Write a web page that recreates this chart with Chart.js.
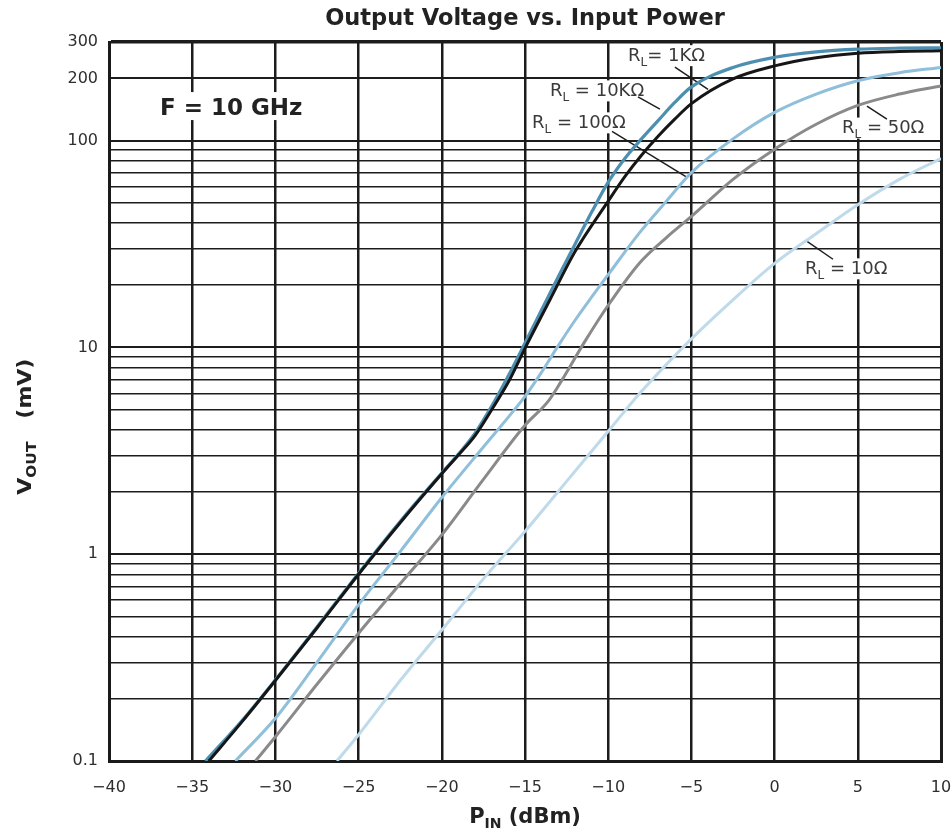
<!DOCTYPE html>
<html>
<head>
<meta charset="utf-8">
<script src="https://cdn.jsdelivr.net/npm/chart.js@4.4.1/dist/chart.umd.min.js"></script>
<style>
  html, body { margin: 0; padding: 0; background: #ffffff; }
  canvas { display: block; }
</style>
</head>
<body>
<canvas id="c" width="951" height="835"></canvas>
<script>
// ---------- text ----------
const chartTitle = 'Output Voltage vs. Input Power';
const conditionLabel = 'F = 10 GHz';

// ---------- ticks ----------
const xTickValues = [-40, -35, -30, -25, -20, -15, -10, -5, 0, 5, 10];
const xTickLabels = ['\u221240', '\u221235', '\u221230', '\u221225', '\u221220', '\u221215', '\u221210', '\u22125', '0', '5', '10'];
const yTickValues = [0.1, 0.2, 0.3, 0.4, 0.5, 0.6, 0.7, 0.8, 0.9,
                     1, 2, 3, 4, 5, 6, 7, 8, 9,
                     10, 20, 30, 40, 50, 60, 70, 80, 90,
                     100, 200, 300];
const yTickLabels = ['0.1', '', '', '', '', '', '', '', '',
                     '1', '', '', '', '', '', '', '', '',
                     '10', '', '', '', '', '', '', '', '',
                     '100', '200', '300'];

// ---------- series (P_IN in dBm, V_OUT in mV) ----------
const pin1k   = [-34.0, -32, -30, -27.5, -25, -22.5, -20, -19, -18, -17, -16, -15, -13.5, -12, -10, -9, -8, -7, -6, -5, -2.5, 0, 2.5, 5, 7.5, 10];
const vout1k  = [0.1, 0.155, 0.245, 0.44, 0.80, 1.42, 2.45, 3.02, 3.75, 5.0, 6.8, 9.9, 17, 29, 51, 67, 85, 105, 127, 151, 199, 230, 252, 265, 270, 272];

const pin10k  = [-34.2, -32, -30, -27.5, -25, -22.5, -20, -19, -18, -17, -16, -15, -14, -13, -12, -11, -10, -9, -8, -7, -6, -5, -2.5, 0, 2.5, 5, 7.5, 10];
const vout10k = [0.1, 0.157, 0.247, 0.445, 0.81, 1.44, 2.47, 3.05, 3.85, 5.2, 7.3, 10.5, 15.2, 22, 31.5, 45, 63, 82, 102, 125, 153, 182, 226, 253, 269, 277, 280, 281];

const pin100  = [-32.4, -30, -27.5, -25, -22.5, -20, -17.5, -16, -15, -14, -13, -12, -11, -10, -8.1, -6.5, -5, -2.5, 0, 2.5, 5, 7.5, 10];
const vout100 = [0.1, 0.161, 0.30, 0.57, 1.03, 1.88, 3.3, 4.6, 5.8, 7.6, 10.2, 13.5, 17.5, 22.5, 36, 51, 70, 102, 137, 168, 195, 213, 226];

const pin50   = [-31.2, -30, -27.5, -25, -22.5, -20, -17.5, -15, -13.6, -12.9, -11.4, -10, -8.1, -6.5, -5, -2.5, 0, 2.5, 5, 7.5, 10];
const vout50  = [0.1, 0.131, 0.235, 0.415, 0.72, 1.24, 2.3, 4.2, 5.5, 6.7, 10.7, 16, 25.7, 34, 43, 65, 91, 120, 148, 168, 184];

const pin10   = [-26.3, -25, -22.5, -20, -17.5, -15, -12.5, -10, -8.1, -5, -2.5, 0, 2.5, 5, 7.5, 10];
const vout10  = [0.1, 0.134, 0.245, 0.43, 0.76, 1.29, 2.25, 3.93, 6.0, 11, 17, 25.5, 35.5, 49, 65, 82];

// ---------- curve labels (anchored in data coordinates) ----------
const labelRest  = ['= 1K\u03A9', ' = 10K\u03A9', ' = 100\u03A9', ' = 50\u03A9', ' = 10\u03A9'];
const labelX     = [-8.81, -13.5, -14.58, 4.05, 1.83];
const labelY     = [262, 177, 124, 117, 24.4];
const leadX1     = [-5.99, -8.21, -9.77, 5.55, 1.95];
const leadY1     = [227, 163, 111, 147, 32.6];
const leadX2     = [-4.0, -6.89, -5.26, 6.75, 3.51];
const leadY2     = [177, 142, 66.5, 127, 26.7];
const condX = -36.94, condY = 147;

function series(xs, ys) { return xs.map((v, i) => ({ x: v, y: ys[i] })); }

const F_MAIN = '18px "DejaVu Sans"';
const F_SUB  = '12px "DejaVu Sans"';

function richWidth(ctx, parts) {
  let w = 0;
  for (const p of parts) { ctx.font = p.f; w += ctx.measureText(p.t).width; }
  return w;
}
function drawRich(ctx, parts, x, y) {
  let cx = x;
  for (const p of parts) {
    ctx.font = p.f;
    ctx.fillText(p.t, cx, y + (p.dy || 0));
    cx += ctx.measureText(p.t).width;
  }
}

const overlay = {
  id: 'overlay',
  beforeDatasetsDraw(chart) {
    const { ctx, scales: { x, y } } = chart;
    ctx.save();
    ctx.textBaseline = 'alphabetic';
    ctx.textAlign = 'left';
    // condition label
    ctx.font = 'bold 23px "DejaVu Sans"';
    const cx = x.getPixelForValue(condX), cy = y.getPixelForValue(condY);
    const cw = ctx.measureText(conditionLabel).width;
    ctx.fillStyle = '#ffffff';
    ctx.fillRect(cx - 3, cy - 14, cw + 6, 28);
    ctx.fillStyle = '#222222';
    ctx.fillText(conditionLabel, cx, cy + 8.5);

    // curve labels
    const boxes = labelRest.map((rest, i) => {
      const parts = [{ t: 'R', f: F_MAIN }, { t: 'L', f: F_SUB, dy: 5 }, { t: rest, f: F_MAIN }];
      const px = x.getPixelForValue(labelX[i]), py = y.getPixelForValue(labelY[i]);
      return { parts, px, py, w: richWidth(ctx, parts) };
    });
    ctx.fillStyle = '#ffffff';
    boxes.forEach(b => ctx.fillRect(b.px - 1, b.py - 9, b.w + 2, 21));
    ctx.strokeStyle = '#1e1e1e';
    ctx.lineWidth = 1.5;
    labelRest.forEach((_, i) => {
      ctx.beginPath();
      ctx.moveTo(x.getPixelForValue(leadX1[i]), y.getPixelForValue(leadY1[i]));
      ctx.lineTo(x.getPixelForValue(leadX2[i]), y.getPixelForValue(leadY2[i]));
      ctx.stroke();
    });
    ctx.fillStyle = '#3a3a3a';
    boxes.forEach(b => drawRich(ctx, b.parts, b.px, b.py + 6.5));
    ctx.restore();
  },
  afterDraw(chart) {
    const { ctx, chartArea } = chart;
    const midX = (chartArea.left + chartArea.right) / 2;
    ctx.save();
    ctx.fillStyle = '#222222';
    ctx.textBaseline = 'alphabetic';
    // title
    ctx.font = 'bold 22.5px "DejaVu Sans"';
    ctx.textAlign = 'center';
    ctx.fillText(chartTitle, midX, 25);
    ctx.textAlign = 'left';
    // x axis title P_IN (dBm)
    const xParts = [{ t: 'P', f: 'bold 21px "DejaVu Sans"' },
                    { t: 'IN', f: 'bold 14px "DejaVu Sans"', dy: 5 },
                    { t: ' (dBm)', f: 'bold 21px "DejaVu Sans"' }];
    const xw = richWidth(ctx, xParts);
    drawRich(ctx, xParts, midX - xw / 2, 823);
    // y axis title V_OUT (mV)
    const yParts = [{ t: 'V', f: 'bold 20px "DejaVu Sans"' },
                    { t: 'OUT', f: 'bold 14px "DejaVu Sans"', dy: 5 },
                    { t: '   (mV)', f: 'bold 20px "DejaVu Sans"' }];
    const yw = richWidth(ctx, yParts);
    ctx.translate(31, chartArea.top + (chartArea.bottom - chartArea.top) * 0.535);
    ctx.rotate(-Math.PI / 2);
    ctx.scale(1.1, 1);
    drawRich(ctx, yParts, -yw / 2, 0);
    ctx.restore();
  }
};

Chart.defaults.font.family = '"DejaVu Sans"';

new Chart(document.getElementById('c'), {
  type: 'line',
  data: {
    datasets: [
      { label: 'RL = 1K\u03A9',  data: series(pin1k, vout1k),   borderColor: '#161616', borderWidth: 3 },
      { label: 'RL = 10K\u03A9', data: series(pin10k, vout10k), borderColor: '#4d8fb0', borderWidth: 3.2 },
      { label: 'RL = 100\u03A9', data: series(pin100, vout100), borderColor: '#8fbfdb', borderWidth: 3 },
      { label: 'RL = 50\u03A9',  data: series(pin50, vout50),   borderColor: '#8a8a8a', borderWidth: 3 },
      { label: 'RL = 10\u03A9',  data: series(pin10, vout10),   borderColor: '#bfdaea', borderWidth: 3 }
    ]
  },
  options: {
    responsive: false,
    animation: false,
    devicePixelRatio: 1,
    elements: {
      point: { radius: 0 },
      line: { cubicInterpolationMode: 'monotone', fill: false }
    },
    layout: { padding: { top: 42, right: 10, bottom: 0, left: 0 } },
    plugins: {
      legend: { display: false },
      title: { display: false },
      tooltip: { enabled: false }
    },
    scales: {
      x: {
        type: 'linear',
        min: -40, max: 10,
        afterBuildTicks: (axis) => { axis.ticks = xTickValues.map(v => ({ value: v })); },
        afterFit: (scale) => { scale.height = 74; scale.paddingRight = 0; scale.paddingLeft = 0; },
        ticks: {
          autoSkip: false, maxRotation: 0, padding: 17,
          color: '#2e2e2e', font: { size: 16 },
          callback: (v, i) => xTickLabels[i]
        },
        grid: {
          drawTicks: false,
          color: '#1c1c1c',
          lineWidth: (c) => (c.tick && (c.tick.value === 10 || c.tick.value === -40)) ? 3 : 2.5
        },
        border: { width: 3, color: '#1a1a1a' }
      },
      y: {
        type: 'logarithmic',
        min: 0.1, max: 300,
        afterBuildTicks: (axis) => { axis.ticks = yTickValues.map(v => ({ value: v })); },
        afterFit: (scale) => { scale.width = 109; scale.paddingTop = 0; scale.paddingBottom = 0; },
        ticks: {
          autoSkip: false, padding: 11,
          color: '#2e2e2e', font: { size: 16 },
          callback: (v, i) => yTickLabels[i]
        },
        grid: {
          drawTicks: false,
          color: '#1c1c1c',
          lineWidth: (c) => {
            if (!c.tick) return 1.5;
            const v = c.tick.value;
            if (v === 300) return 3.5;
            if (v === 0.1 || v === 1 || v === 10 || v === 100 || v === 200) return 2;
            return 1.5;
          }
        },
        border: { width: 3, color: '#1a1a1a' }
      }
    }
  },
  plugins: [overlay]
});
</script>
</body>
</html>
